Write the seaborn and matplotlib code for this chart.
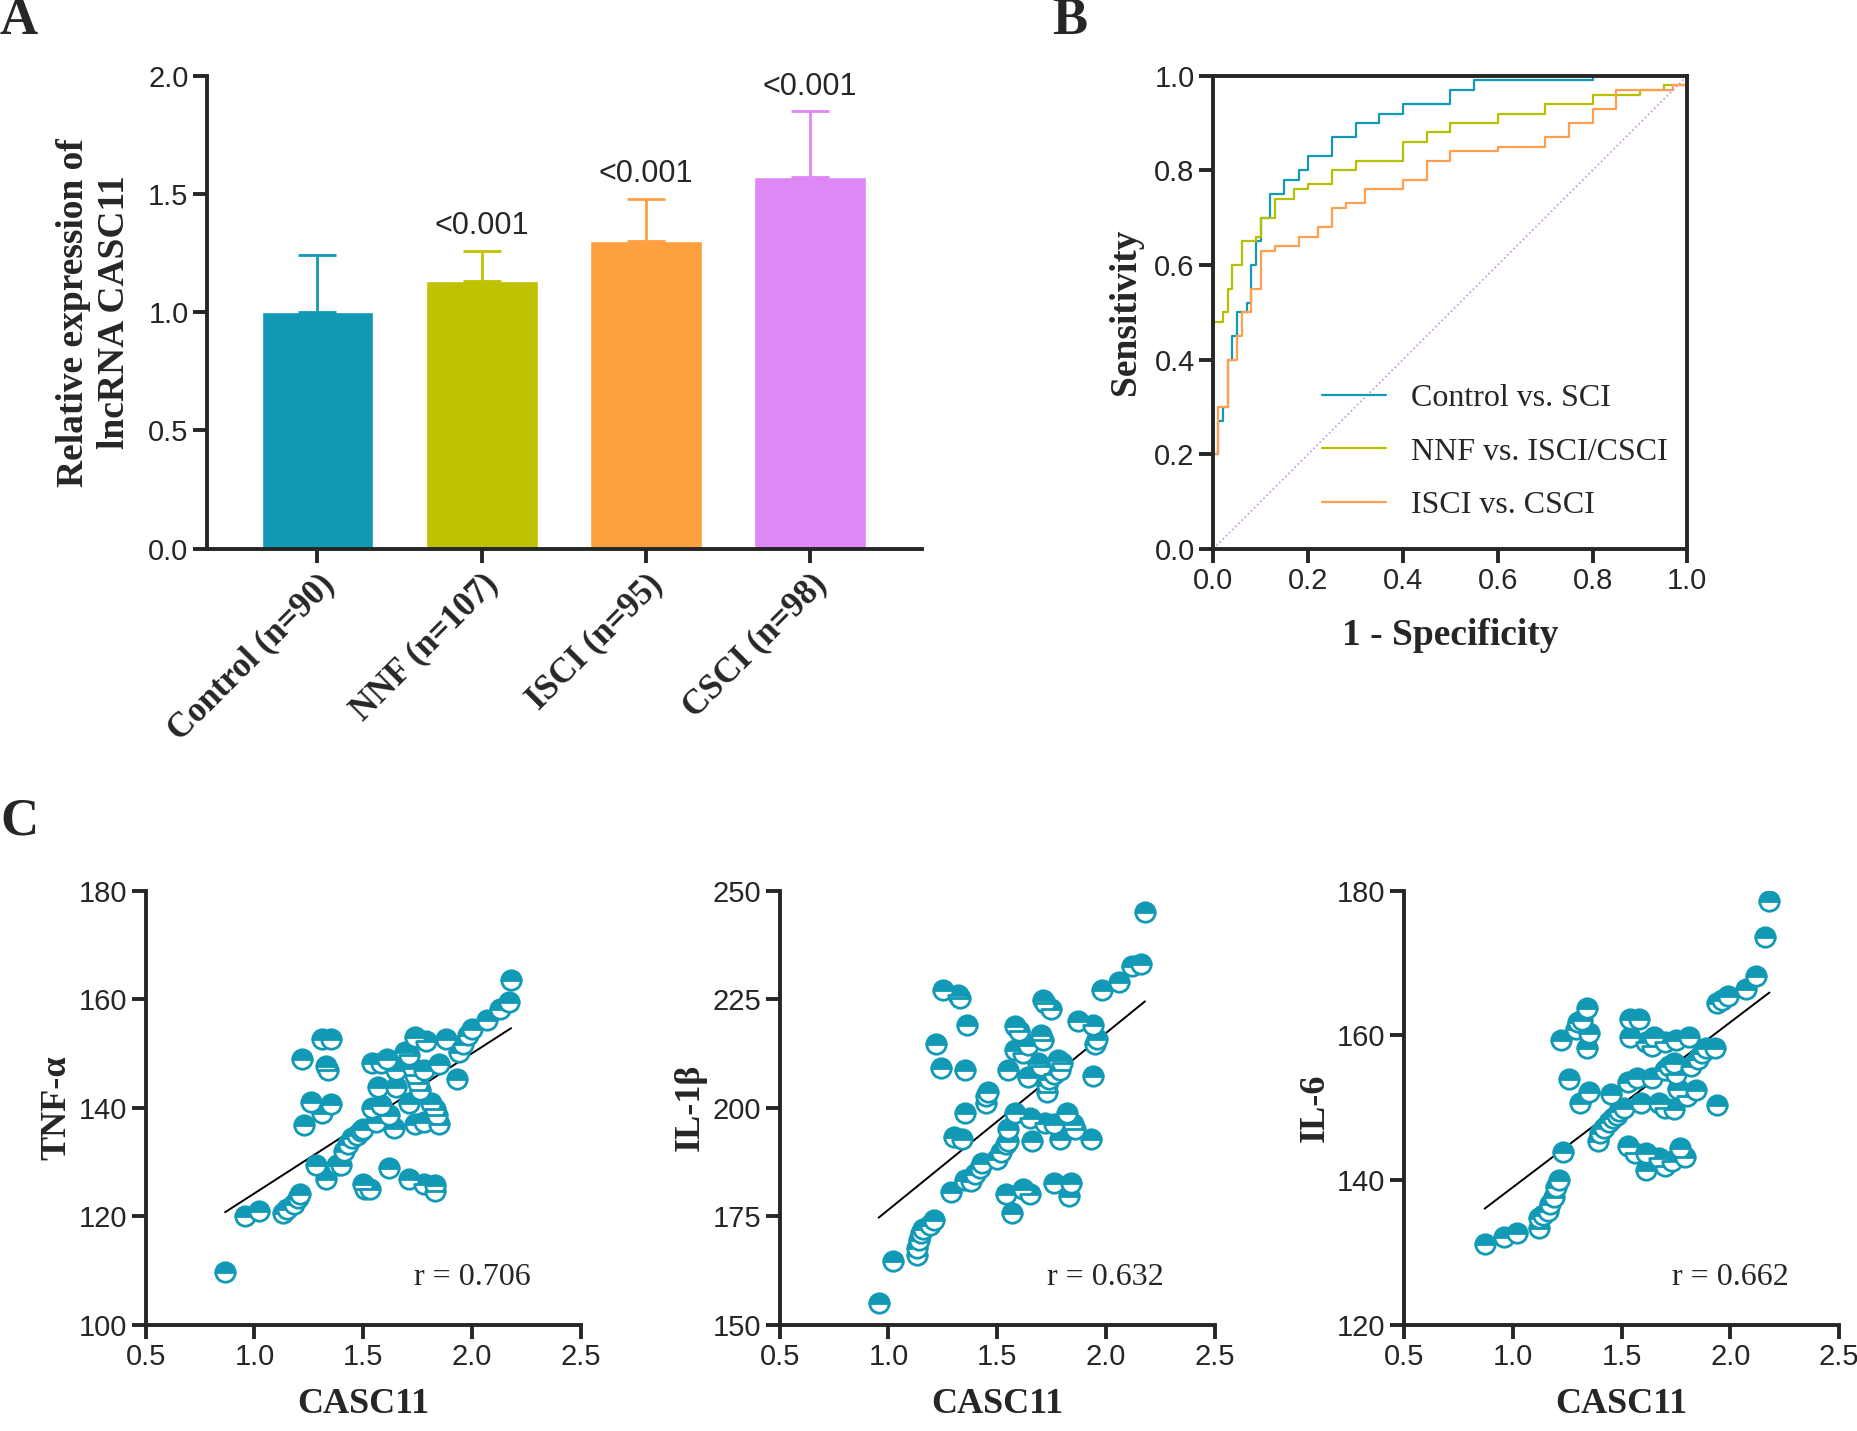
import numpy as np
import pandas as pd
import seaborn as sns
import matplotlib.pyplot as plt

# ---- data ----
groups = ['Control (n=90)', 'NNF (n=107)', 'ISCI (n=95)', 'CSCI (n=98)']
bar_means = [1.00, 1.13, 1.30, 1.57]
bar_err = [0.24, 0.13, 0.18, 0.28]
bar_pvals = ['', '<0.001', '<0.001', '<0.001']
bar_colors = ['#1199B5', '#BFC200', '#FFA040', '#DD88F5']

roc_ctrl_x = [0, 0, 0.01, 0.02, 0.03, 0.04, 0.05, 0.07, 0.08, 0.09, 0.10, 0.12, 0.15, 0.18, 0.20, 0.25, 0.30, 0.35, 0.40, 0.50, 0.55, 0.70, 0.80, 0.90, 1.0]
roc_ctrl_y = [0, 0.20, 0.27, 0.30, 0.40, 0.45, 0.50, 0.52, 0.60, 0.65, 0.70, 0.75, 0.78, 0.80, 0.83, 0.87, 0.90, 0.92, 0.94, 0.97, 0.99, 0.99, 1.0, 1.0, 1.0]
roc_nnf_x = [0, 0, 0.02, 0.03, 0.04, 0.06, 0.09, 0.10, 0.13, 0.17, 0.20, 0.25, 0.30, 0.40, 0.45, 0.50, 0.60, 0.70, 0.80, 0.90, 0.95, 1.0]
roc_nnf_y = [0, 0.48, 0.50, 0.55, 0.60, 0.65, 0.66, 0.70, 0.74, 0.76, 0.77, 0.80, 0.82, 0.86, 0.88, 0.90, 0.92, 0.94, 0.96, 0.97, 0.98, 1.0]
roc_isci_x = [0, 0, 0.01, 0.03, 0.05, 0.06, 0.08, 0.10, 0.13, 0.18, 0.22, 0.25, 0.28, 0.32, 0.40, 0.45, 0.50, 0.60, 0.70, 0.75, 0.80, 0.85, 0.92, 0.97, 1.0]
roc_isci_y = [0, 0.20, 0.30, 0.40, 0.45, 0.50, 0.55, 0.63, 0.64, 0.66, 0.68, 0.72, 0.73, 0.76, 0.78, 0.82, 0.84, 0.85, 0.87, 0.90, 0.93, 0.97, 0.97, 0.98, 1.0]

tnf_x = [0.865, 0.957, 1.02, 1.13, 1.15, 1.18, 1.20, 1.21, 1.22, 1.26, 1.23, 1.31, 1.285, 1.33, 1.31, 1.35, 1.33, 1.34,
         1.35, 1.38, 1.40, 1.41, 1.43, 1.45, 1.47, 1.49, 1.50, 1.50, 1.51, 1.53, 1.54, 1.58, 1.61, 1.57, 1.54, 1.58,
         1.56, 1.62, 1.64, 1.62, 1.65, 1.65, 1.69, 1.71, 1.71, 1.71, 1.73, 1.74, 1.75, 1.76, 1.74, 1.74, 1.78, 1.79,
         1.88, 1.78, 1.85, 1.81, 1.83, 1.84, 1.85, 1.78, 1.83, 1.83, 1.93, 1.94, 1.96, 1.98, 2.00, 2.07, 2.13, 2.17, 2.18]
tnf_y = [109.6, 120.0, 121.0, 120.6, 121.3, 122.3, 123.3, 124.0, 149.0, 141.0, 136.7, 139.0, 129.5, 126.8, 152.7, 152.7, 147.6, 147.0,
         140.7, 129.5, 129.5, 132.0, 133.2, 134.3, 135.0, 135.6, 136.0, 126.0, 125.0, 125.0, 148.3, 148.3, 149.0, 143.8, 140.0, 140.4,
         137.3, 138.7, 136.3, 128.8, 147.0, 143.8, 150.3, 149.6, 140.8, 126.8, 147.3, 146.0, 144.6, 143.2, 153.0, 137.0, 137.3, 152.3,
         152.7, 147.0, 148.0, 140.8, 139.7, 138.7, 137.0, 126.0, 125.7, 124.7, 145.2, 150.3, 151.7, 153.4, 154.4, 156.1, 158.2, 159.5, 163.6]

il1b_x = [0.955, 1.02, 1.13, 1.13, 1.14, 1.15, 1.16, 1.19, 1.21, 1.22, 1.24, 1.25, 1.32, 1.33, 1.36, 1.35, 1.35, 1.30, 1.34,
          1.29, 1.35, 1.38, 1.40, 1.42, 1.43, 1.45, 1.45, 1.46, 1.50, 1.52, 1.54, 1.55, 1.55, 1.54, 1.57, 1.62, 1.65, 1.55,
          1.58, 1.60, 1.58, 1.62, 1.64, 1.64, 1.58, 1.65, 1.66, 1.70, 1.71, 1.71, 1.72, 1.75, 1.69, 1.70, 1.73, 1.73, 1.74,
          1.76, 1.72, 1.78, 1.80, 1.79, 1.76, 1.82, 1.85, 1.86, 1.79, 1.93, 1.76, 1.84, 1.83, 1.87, 1.94, 1.95, 1.96, 1.94,
          1.98, 2.06, 2.12, 2.16, 2.18]
il1b_y = [154.9, 164.7, 166.0, 167.7, 169.5, 171.2, 172.0, 172.9, 174.2, 214.6, 209.0, 227.0, 226.0, 225.3, 219.0, 208.6, 198.8, 193.3, 192.8,
          180.5, 183.4, 183.0, 184.7, 186.0, 187.3, 201.0, 202.6, 203.5, 188.1, 189.8, 191.5, 192.4, 195.0, 180.0, 175.8, 181.3, 180.0, 208.6,
          218.8, 217.6, 213.2, 212.5, 214.5, 207.0, 198.8, 197.5, 192.4, 216.8, 215.5, 224.8, 224.0, 222.7, 210.3, 209.5, 205.2, 203.5, 206.5,
          207.8, 196.5, 211.0, 210.3, 208.6, 196.2, 198.8, 196.2, 195.0, 192.8, 192.8, 182.6, 182.6, 179.6, 220.0, 219.0, 214.6, 215.9, 207.3,
          227.0, 229.0, 232.5, 233.0, 245.1]

il6_x = [0.87, 0.96, 1.02, 1.12, 1.12, 1.14, 1.16, 1.17, 1.19, 1.20, 1.21, 1.22, 1.23, 1.26, 1.29, 1.30, 1.32, 1.34, 1.35, 1.34,
         1.31, 1.35, 1.39, 1.40, 1.42, 1.44, 1.46, 1.48, 1.49, 1.51, 1.45, 1.53, 1.56, 1.61, 1.61, 1.54, 1.58, 1.54, 1.53, 1.57,
         1.59, 1.61, 1.65, 1.64, 1.64, 1.67, 1.70, 1.74, 1.70, 1.75, 1.81, 1.70, 1.72, 1.74, 1.75, 1.76, 1.80, 1.84, 1.67, 1.70,
         1.73, 1.77, 1.79, 1.82, 1.85, 1.87, 1.89, 1.93, 1.94, 1.94, 1.96, 1.99, 2.07, 2.12, 2.16, 2.18]
il6_y = [131.1, 132.1, 132.6, 133.4, 134.7, 135.2, 135.7, 136.7, 137.7, 139.0, 140.0, 159.3, 143.9, 153.9, 160.8, 161.8, 162.1, 163.8, 160.3, 158.2,
         150.6, 152.1, 145.4, 146.5, 147.2, 148.0, 148.5, 149.0, 149.5, 150.0, 151.9, 144.7, 143.7, 143.7, 141.3, 162.3, 162.3, 159.8, 153.6, 154.1,
         150.6, 159.0, 159.8, 158.5, 154.1, 150.6, 150.0, 149.8, 159.0, 159.3, 159.8, 155.2, 155.7, 156.2, 154.7, 152.6, 151.6, 152.4, 143.0, 141.9,
         142.6, 144.4, 143.1, 155.7, 156.7, 157.5, 158.2, 158.2, 150.3, 164.4, 164.9, 165.4, 166.4, 168.2, 173.6, 178.6]

scatter_panels = [
    ('TNF-α', tnf_x, tnf_y, (100, 180), [100, 120, 140, 160, 180], 'r = 0.706'),
    ('IL-1β', il1b_x, il1b_y, (150, 250), [150, 175, 200, 225, 250], 'r = 0.632'),
    ('IL-6', il6_x, il6_y, (120, 180), [120, 140, 160, 180], 'r = 0.662'),
]

# ---- style ----
sns.set_style('ticks')
plt.rcParams['font.family'] = ['Liberation Sans', 'DejaVu Sans']
SERIF = ['Liberation Serif', 'DejaVu Serif']
TEAL = '#1199B5'
LW = 2.8
TICK_FS = 21
LAB_FS = 27

W, H = 1568, 1210
fig = plt.figure(figsize=(18.58, 14.31), dpi=100)


def rect(l, t, r, b):
    return [l / W, 1 - b / H, (r - l) / W, (b - t) / H]


def style_axes(ax):
    sns.despine(ax=ax)
    for s in ['left', 'bottom']:
        ax.spines[s].set_linewidth(LW)
    ax.tick_params(width=LW, length=10, labelsize=TICK_FS, direction='out')


# ---- A: bars ----
axA = fig.add_axes(rect(175, 64, 778, 464))
bar_df = pd.DataFrame({'group': groups, 'mean': bar_means})
sns.barplot(data=bar_df, x='group', y='mean', hue='group', palette=bar_colors,
            width=0.68, legend=False, saturation=1, ax=axA)
for i, (m, e, p, c) in enumerate(zip(bar_means, bar_err, bar_pvals, bar_colors)):
    axA.errorbar(i, m, yerr=[[0], [e]], color=c, capsize=14, capthick=2, elinewidth=2)
    if p:
        axA.text(i, m + e + 0.04, p, ha='center', va='bottom', fontsize=TICK_FS + 1)
axA.set_xlim(-0.67, 3.68)
axA.set_ylim(0, 2.0)
axA.set_yticks([0, 0.5, 1.0, 1.5, 2.0])
axA.set_yticklabels(['0.0', '0.5', '1.0', '1.5', '2.0'])
axA.set_xlabel('')
axA.set_ylabel('Relative expression of\nlncRNA CASC11', family=SERIF, fontweight='bold',
               fontsize=LAB_FS, labelpad=12)
style_axes(axA)
axA.set_xticks(range(4))
axA.set_xticklabels(groups, rotation=45, ha='right', rotation_mode='anchor',
                    family=SERIF, fontweight='bold', fontsize=25)

# ---- B: ROC ----
axB = fig.add_axes(rect(1024, 64, 1424, 464))
sns.lineplot(x=roc_ctrl_x, y=roc_ctrl_y, color=TEAL, lw=1.6, estimator=None, sort=False,
             label='Control vs. SCI', drawstyle='steps-post', ax=axB)
sns.lineplot(x=roc_nnf_x, y=roc_nnf_y, color='#B5C000', lw=1.6, estimator=None, sort=False,
             label='NNF vs. ISCI/CSCI', drawstyle='steps-post', ax=axB)
sns.lineplot(x=roc_isci_x, y=roc_isci_y, color='#FF9F50', lw=1.6, estimator=None, sort=False,
             label='ISCI vs. CSCI', drawstyle='steps-post', ax=axB)
axB.plot([0, 1], [0, 1], ls=':', color='#C890E0', lw=1.2)
axB.set_xlim(0, 1)
axB.set_ylim(0, 1)
ticks = [0, 0.2, 0.4, 0.6, 0.8, 1.0]
axB.set_xticks(ticks)
axB.set_yticks(ticks)
axB.set_xticklabels([f'{t:.1f}' for t in ticks])
axB.set_yticklabels([f'{t:.1f}' for t in ticks])
for s in ['left', 'bottom', 'top', 'right']:
    axB.spines[s].set_linewidth(LW)
axB.tick_params(width=LW, length=10, labelsize=TICK_FS, direction='out', top=False, right=False)
axB.set_xlabel('1 - Specificity', family=SERIF, fontweight='bold', fontsize=LAB_FS, labelpad=16)
axB.set_ylabel('Sensitivity', family=SERIF, fontweight='bold', fontsize=LAB_FS, labelpad=8)
axB.legend(loc='lower right', frameon=False, prop={'family': SERIF, 'size': 23},
           handlelength=2.0, labelspacing=0.75, bbox_to_anchor=(1.02, 0.0))

# ---- C: scatters ----
lefts = [123, 658, 1185]
for (lab, xs, ys, ylim, yt, rtxt), l in zip(scatter_panels, lefts):
    ax = fig.add_axes(rect(l, 753, l + 367, 1120))
    sns.regplot(x=xs, y=ys, scatter=False, ci=None, truncate=True,
                line_kws={'color': 'black', 'lw': 1.4}, ax=ax)
    ax.plot(xs, ys, ls='none', marker='o', markersize=14, fillstyle='top',
            color=TEAL, markerfacecoloralt='white', markeredgecolor=TEAL, markeredgewidth=2)
    ax.set_xlim(0.5, 2.5)
    ax.set_ylim(*ylim)
    ax.set_xticks([0.5, 1.0, 1.5, 2.0, 2.5])
    ax.set_yticks(yt)
    style_axes(ax)
    ax.set_xlabel('CASC11', family=SERIF, fontweight='bold', fontsize=LAB_FS - 1, labelpad=12)
    ax.set_ylabel(lab, family=SERIF, fontweight='bold', fontsize=LAB_FS - 1)
    ax.text(0.75, 0.09, rtxt, transform=ax.transAxes, family=SERIF, fontsize=23, ha='center')

for letter, x, y in [('A', 0, 18), ('B', 888, 18), ('C', 0, 695)]:
    fig.text(x / W, 1 - y / H, letter, family=SERIF, fontweight='bold', fontsize=38, va='center')

fig.savefig('out.png', dpi=100)
